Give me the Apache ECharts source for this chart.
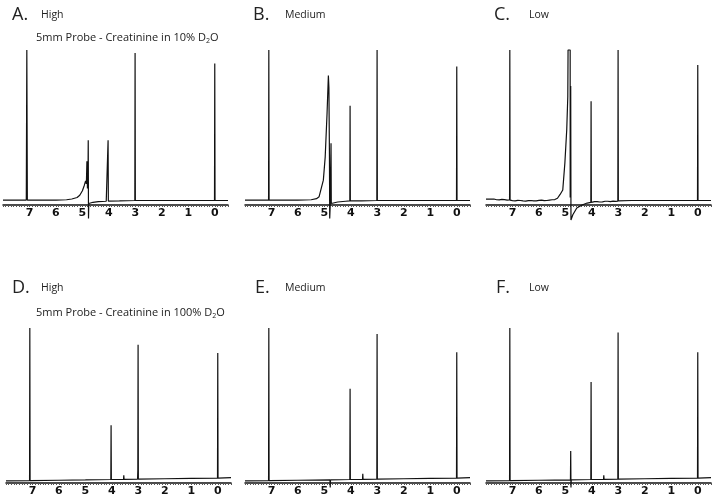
<!DOCTYPE html>
<html><head><meta charset="utf-8">
<script src="https://cdn.jsdelivr.net/npm/echarts@6/dist/echarts.min.js"></script>
<style>html,body{margin:0;padding:0;background:#fff}#c{width:715px;height:501px}</style>
</head><body><div id="c"></div>
<script>
// x ticks (ppm) and labels
const tickLabels = [0, 1, 2, 3, 4, 5, 6, 7];
// spectra: [ppm, relative intensity]
const specA = [[8.0,0.3],[7.5,0.2],[7.12,0.3],[7.1,100],[7.08,0.3],[6.5,0.2],[6.0,0.3],[5.6,0.5],[5.4,1],[5.2,2],[5.1,3.5],[5.0,6.5],[4.93,10],[4.88,13],[4.85,11],[4.83,26],[4.81,8],[4.79,12],[4.78,40],[4.77,-12],[4.76,-2],[4.72,-1.5],[4.6,-1.2],[4.4,-0.8],[4.1,-0.5],[4.04,-0.4],[4.03,40],[4.02,-0.4],[3.6,-0.3],[3.02,0],[3.01,98],[3.0,0],[2.0,0],[1.0,0],[0.01,0],[0.0,91],[-0.01,0],[-0.5,0]];
const specB = [[8.0,0.3],[7.5,0.2],[7.11,0.2],[7.1,100],[7.09,0.2],[6.0,0.3],[5.5,0.5],[5.3,1.2],[5.2,2.5],[5.15,3.5],[5.04,13.5],[4.97,29],[4.9,58],[4.85,83],[4.83,75],[4.81,30],[4.8,-12],[4.78,-3],[4.75,38],[4.74,-2],[4.7,-1.5],[4.5,-1],[4.2,-0.5],[4.04,-0.3],[4.03,63],[4.02,-0.3],[3.6,-0.2],[3.02,0],[3.01,100],[3.0,0],[2.0,0],[1.0,0],[0.01,0],[0.0,89],[-0.01,0],[-0.5,0]];
const specC = [[8.0,0.9],[7.95,0.6],[7.9,1.0],[7.85,0.5],[7.8,0.9],[7.75,0.6],[7.7,1.0],[7.6,0.5],[7.55,0.8],[7.5,0.4],[7.4,0.7],[7.35,0.3],[7.3,0.6],[7.2,0.3],[7.11,0.4],[7.1,100],[7.09,0.2],[7.0,-0.1],[6.95,0.2],[6.9,-0.2],[6.8,0.1],[6.75,-0.3],[6.7,0.0],[6.6,-0.3],[6.55,0.0],[6.5,-0.4],[6.4,-0.1],[6.35,-0.4],[6.3,0.0],[6.2,-0.3],[6.15,0.1],[6.1,-0.2],[6.0,0.1],[5.95,-0.2],[5.9,0.2],[5.8,-0.1],[5.75,0.3],[5.7,0.0],[5.6,0.3],[5.55,0.1],[5.5,0.5],[5.4,0.6],[5.3,1.5],[5.2,4],[5.1,7],[5.02,25],[4.95,47],[4.91,69],[4.9,100],[4.82,100],[4.82,2],[4.8,76],[4.79,-13],[4.72,-9.5],[4.57,-5],[4.37,-3],[4.18,-1.7],[4.04,-1.3],[4.03,66],[4.02,-1.2],[3.9,-0.8],[3.85,-1.1],[3.8,-0.7],[3.7,-1.0],[3.65,-0.6],[3.6,-0.9],[3.5,-0.5],[3.45,-0.8],[3.4,-0.5],[3.3,-0.7],[3.2,-0.4],[3.1,-0.6],[3.02,-0.4],[3.01,100],[3.0,-0.3],[2.5,0],[1.0,0],[0.01,0],[0.0,90],[-0.01,0],[-0.5,0]];
const specD = [[8.0,-0.6],[7.11,-0.4],[7.1,100],[7.09,-0.4],[6.0,-0.2],[5.0,0],[4.04,0.3],[4.03,36],[4.02,0.3],[3.56,0.4],[3.55,3],[3.54,0.4],[3.03,0.5],[3.02,6],[3.01,89],[3.0,0.5],[2.0,0.8],[1.0,1],[0.01,1.2],[0.0,83.5],[-0.01,1.2],[-0.5,1.5]];
const specE = [[8.0,-0.6],[7.11,-0.4],[7.1,100],[7.09,-0.4],[6.0,-0.2],[4.79,0],[4.78,-5],[4.77,0],[4.04,0.3],[4.03,60],[4.02,0.3],[3.56,0.4],[3.55,4],[3.54,0.4],[3.02,0.5],[3.01,96],[3.0,0.5],[2.0,0.8],[1.0,1],[0.01,1.2],[0.0,84],[-0.01,1.2],[-0.5,1.5]];
const specF = [[8.0,-0.6],[7.11,-0.4],[7.1,100],[7.09,-0.4],[6.0,-0.2],[4.81,0],[4.8,19],[4.79,-5],[4.78,0],[4.04,0.3],[4.03,64.5],[4.02,0.3],[3.56,0.4],[3.55,3],[3.54,0.4],[3.02,0.5],[3.01,97],[3.0,0.5],[2.0,0.8],[1.0,1],[0.01,1.2],[0.0,84],[-0.01,1.2],[-0.5,1.5]];
const spectra = [specA, specB, specC, specD, specE, specF];
const letters = ['A.', 'B.', 'C.', 'D.', 'E.', 'F.'];
const levels = ['High', 'Medium', 'Low', 'High', 'Medium', 'Low'];

const minorTicks = [];
for (let i = -5; i <= 80; i++) minorTicks.push(i / 10);

const lefts = [3, 245, 486, 6, 245, 486];
const tops = [50, 50, 50, 328, 328, 328];
const ymins = [-3, -3, -3, -2, -2, -2];

const chart = echarts.init(document.getElementById('c'));
const grid = [], xAxis = [], yAxis = [], series = [];
for (let i = 0; i < 6; i++) {
  grid.push({left: lefts[i], top: tops[i], width: 225, height: 155});
  xAxis.push({
    type: 'value', gridIndex: i, inverse: true, min: -0.5, max: 8,
    axisLine: {show: true, onZero: false, lineStyle: {color: '#111', width: 1.5}},
    axisTick: {show: true, customValues: minorTicks, length: 2, lineStyle: {color: '#555', width: 1}},
    axisLabel: {customValues: tickLabels, fontFamily: 'DejaVu Sans', fontWeight: 'bold', fontSize: 11, color: '#111', margin: 3},
    splitLine: {show: false}
  });
  yAxis.push({type: 'value', gridIndex: i, min: ymins[i], max: 100, show: false, splitLine: {show: false}});
  series.push({
    type: 'line', xAxisIndex: i, yAxisIndex: i, data: spectra[i], showSymbol: false, clip: false,
    lineStyle: {color: '#111', width: 1.2}, animation: false
  });
}

const titleY = [15, 15, 15, 288, 288, 288];
const letterX = [12, 253, 494, 12, 255, 496];
const levelX = [41, 285, 529, 41, 285, 529];
const graphic = [];
for (let i = 0; i < 6; i++) {
  graphic.push({type: 'text', x: letterX[i], y: titleY[i], style: {text: letters[i], font: '18px "Open Sans"', fill: '#222', verticalAlign: 'middle'}});
  graphic.push({type: 'text', x: levelX[i], y: titleY[i], style: {text: levels[i], font: '10.5px "Open Sans"', fill: '#222', verticalAlign: 'middle'}});
}
const subRich = {sub: {fontSize: 7, fontFamily: 'Open Sans', fill: '#222', padding: [6, 0, 0, 0]}};
graphic.push({type: 'text', x: 36, y: 38, style: {text: '5mm Probe - Creatinine in 10% D{sub|2}O', font: '11px "Open Sans"', fill: '#222', verticalAlign: 'middle', rich: subRich}});
graphic.push({type: 'text', x: 36, y: 313, style: {text: '5mm Probe - Creatinine in 100% D{sub|2}O', font: '11px "Open Sans"', fill: '#222', verticalAlign: 'middle', rich: subRich}});

chart.setOption({animation: false, grid, xAxis, yAxis, series, graphic});
</script></body></html>
